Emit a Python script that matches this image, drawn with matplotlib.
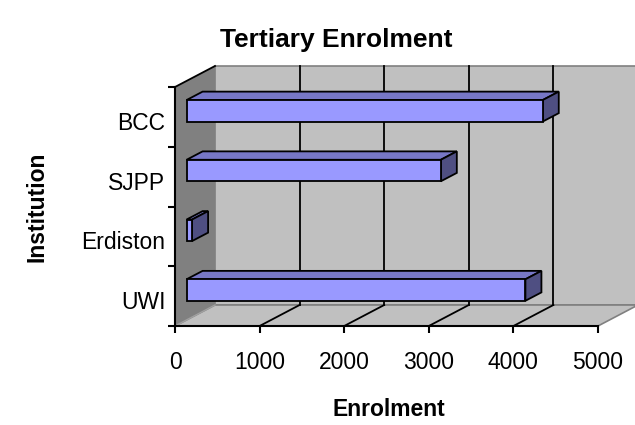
import matplotlib
matplotlib.use('Agg')
import matplotlib.pyplot as plt
import matplotlib.transforms as mtransforms
from matplotlib.patches import Polygon

plt.rcParams['font.family'] = ['Liberation Sans', 'DejaVu Sans']

# Data
institutions = ['UWI', 'Erdiston', 'SJPP', 'BCC']
enrolment = [4005, 65, 3005, 4210]
xticks = [0, 1000, 2000, 3000, 4000, 5000]

# Colours (Excel 97 style)
wall_col = '#C0C0C0'
side_wall_col = '#808080'
front_col = '#9999FF'
top_col = '#7777C6'
side_col = '#4F4F82'

W, H = 635, 425
fig = plt.figure(figsize=(W / 100, H / 100), dpi=100)
fig.patch.set_facecolor('white')

# front plane of the 3D box in pixels
x0px, x1px, y0px, y1px = 175, 598, 326, 87
ax = fig.add_axes([x0px / W, 1 - y0px / H, (x1px - x0px) / W, (y0px - y1px) / H])
xmax = 5000
ax.set_xlim(0, xmax)
ax.set_ylim(-0.5, len(institutions) - 0.5)
ax.set_facecolor('none')

# depth of the box in data units
DX = xmax * 40 / (x1px - x0px)
DY = len(institutions) * 21 / (y0px - y1px)
ylo, yhi = -0.5, len(institutions) - 0.5


def poly(pts, fc, ec='none', lw=1.0, z=1):
    p = Polygon(pts, closed=True, facecolor=fc, edgecolor=ec, linewidth=lw,
                clip_on=False, zorder=z)
    ax.add_patch(p)


# back wall
poly([(DX, ylo + DY), (xmax + DX, ylo + DY), (xmax + DX, yhi + DY), (DX, yhi + DY)],
     wall_col, ec='#808080', lw=1.2, z=1)
# left side wall
poly([(0, ylo), (DX, ylo + DY), (DX, yhi + DY), (0, yhi)], side_wall_col, z=1.5)
# floor
poly([(0, ylo), (xmax, ylo), (xmax + DX, ylo + DY), (DX, ylo + DY)],
     wall_col, ec='#808080', lw=1.2, z=1.5)

# left wall edges
ax.plot([0, DX], [yhi, yhi + DY], color='black', lw=1.3, clip_on=False, zorder=2)
ax.plot([0, DX], [ylo, ylo + DY], color='#A0A0A0', lw=1.0, clip_on=False, zorder=2)

# gridlines on back wall and floor
for v in xticks[1:-1]:
    ax.plot([v + DX, v + DX], [ylo + DY, yhi + DY], color='black', lw=1.3,
            clip_on=False, zorder=2)
    ax.plot([v, v + DX], [ylo, ylo + DY], color='black', lw=1.3,
            clip_on=False, zorder=2)

# 3D bars
d0, d1, bh = 0.29, 0.69, 0.36
for i, val in enumerate(enrolment):
    ox, oy = d0 * DX, d0 * DY
    ddx, ddy = (d1 - d0) * DX, (d1 - d0) * DY
    yb, yt = i - bh / 2 + oy, i + bh / 2 + oy
    xl, xr = ox, ox + val
    # top face
    poly([(xl, yt), (xr, yt), (xr + ddx, yt + ddy), (xl + ddx, yt + ddy)],
         top_col, ec='black', lw=1.3, z=3)
    # right side face
    poly([(xr, yb), (xr + ddx, yb + ddy), (xr + ddx, yt + ddy), (xr, yt)],
         side_col, ec='black', lw=1.3, z=3)
    # front face
    poly([(xl, yb), (xr, yb), (xr, yt), (xl, yt)],
         front_col, ec='black', lw=1.3, z=3)

# axes
for s in ['top', 'right']:
    ax.spines[s].set_visible(False)
for s in ['left', 'bottom']:
    ax.spines[s].set_color('black')
    ax.spines[s].set_linewidth(1.5)
    ax.spines[s].set_zorder(4)

ax.set_xticks(xticks)
ax.set_xticklabels([str(t) for t in xticks])
ax.tick_params(axis='x', direction='out', length=5, width=1.5, labelsize=16.5, pad=13)

ax.set_yticks([k - 0.5 for k in range(len(institutions) + 1)])
ax.set_yticklabels([])
ax.set_yticks(range(len(institutions)), minor=True)
ax.set_yticklabels(institutions, minor=True)
ax.tick_params(axis='y', which='major', direction='out', length=5, width=1.5)
ax.tick_params(axis='y', which='minor', length=0, labelsize=16.5, pad=7)
shift = mtransforms.ScaledTranslation(0, -4 / 100, fig.dpi_scale_trans)
for lab in ax.get_yticklabels(minor=True):
    lab.set_transform(lab.get_transform() + shift)

# titles
fig.text(336.5 / W, 1 - 40 / H, 'Tertiary Enrolment', ha='center', va='center',
         fontsize=19, fontweight='bold')
fig.text(389 / W, 1 - 410 / H, 'Enrolment', ha='center', va='center',
         fontsize=16.5, fontweight='bold')
fig.text(37 / W, 1 - 207 / H, 'Institution', ha='center', va='center',
         fontsize=16.5, fontweight='bold', rotation=90)

fig.savefig('out.png', dpi=100)
